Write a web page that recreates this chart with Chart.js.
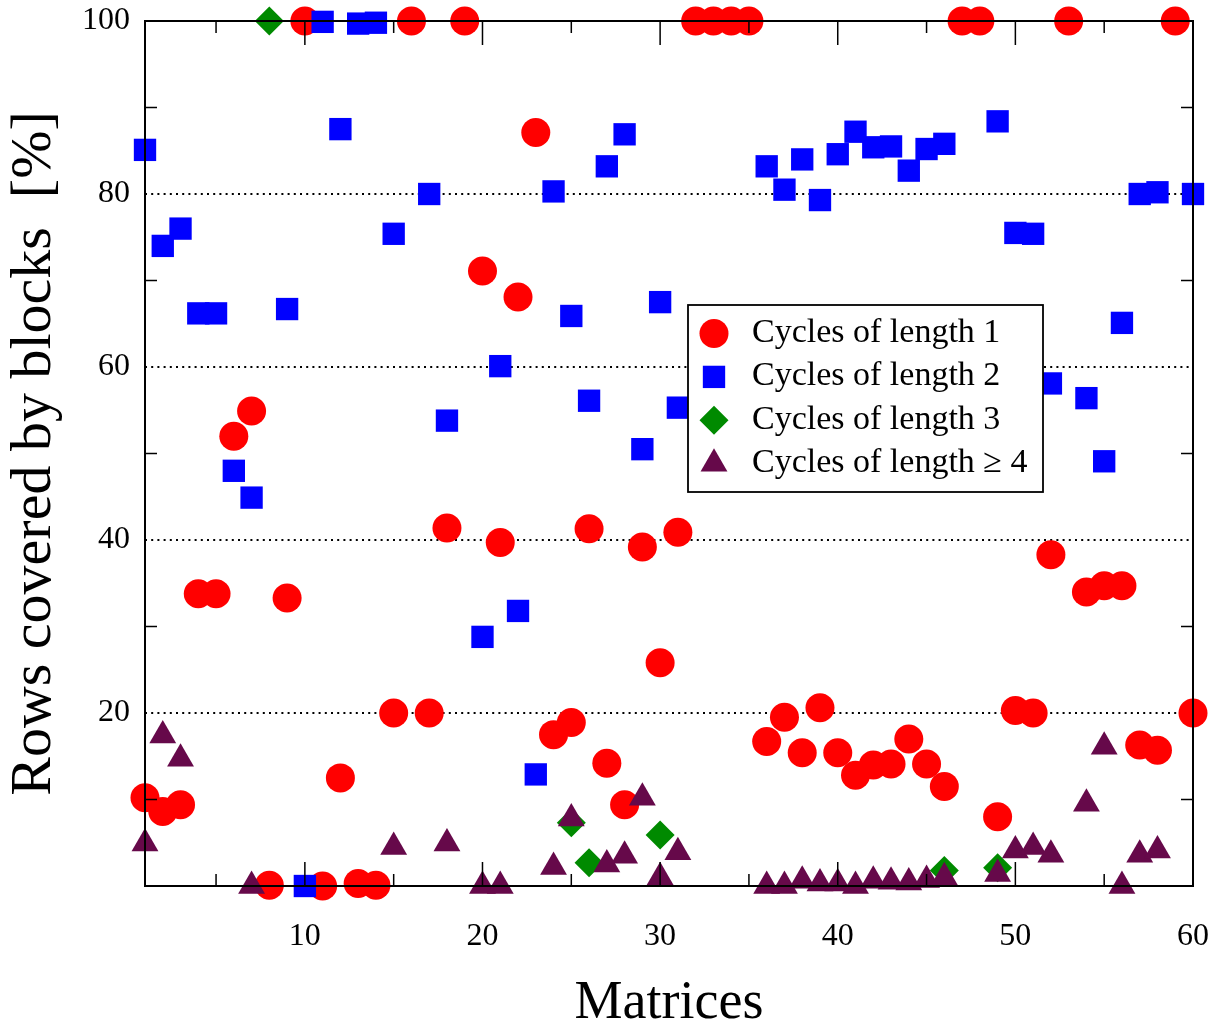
<!DOCTYPE html>
<html>
<head>
<meta charset="utf-8">
<title>Rows covered by blocks</title>
<script src="https://cdn.jsdelivr.net/npm/chart.js@4.4.1/dist/chart.umd.min.js"></script>
<style>
  html, body { margin: 0; padding: 0; background: #fff; }
  #wrap { width: 1214px; height: 1025px; }
</style>
</head>
<body>
<div id="wrap"><canvas id="chart"></canvas></div>
<script>
// Matrix index on the x axis
const matrices = [
   1,  2,  3,  4,  5,  6,  7,  8,  9, 10,
  11, 12, 13, 14, 15, 16, 17, 18, 19, 20,
  21, 22, 23, 24, 25, 26, 27, 28, 29, 30,
  31, 32, 33, 34, 35, 36, 37, 38, 39, 40,
  41, 42, 43, 44, 45, 46, 47, 48, 49, 50,
  51, 52, 53, 54, 55, 56, 57, 58, 59, 60
];

// Rows covered by blocks [%], one value per matrix (null = no point)
const cyclesLen1 = [
  10.2,  8.6,  9.4, 33.8, 33.8, 52.0, 54.9,  0.1, 33.3, 100,
   0.0, 12.5,  0.3,  0.1, 20.0, 100,  20.0, 41.4, 100,  71.1,
  39.7, 68.1, 87.1, 17.5, 18.9, 41.3, 14.2,  9.4, 39.2, 25.8,
  40.9, 100,  100,  100,  100,  16.7, 19.5, 15.4, 20.6, 15.4,
  12.8, 14.0, 14.1, 17.0, 14.1, 11.5, 100,  100,   8.0, 20.3,
  20.0, 38.3, 100,  34.0, 34.7, 34.7, 16.3, 15.7, 100,  20.0
];
const cyclesLen2 = [
  85.1, 74.0, 76.0, 66.2, 66.2, 48.0, 44.9, null, 66.7,  0.0,
  99.9, 87.5, 99.7, 99.8, 75.4, null, 80.0, 53.8, null, 28.8,
  60.1, 31.8, 12.9, 80.3, 65.9, 56.1, 83.2, 86.9, 50.5, 67.5,
  55.3, null, null, null, null, 83.2, 80.5, 84.0, 79.3, 84.6,
  87.2, 85.4, 85.5, 82.7, 85.2, 85.8, null, null, 88.4, 75.5,
  75.4, 58.1, null, 56.4, 49.1, 65.1, 80.0, 80.2, null, 80.0
];
const cyclesLen3 = [
  null, null, null, null, null, null, null, 100,  null, null,
  null, null, null, null, null, null, null, null, null, null,
  null, null, null, null,  7.3,  2.7, null, null, null,  5.9,
  null, null, null, null, null, null, null, null, null, null,
  null, null, null, null, null,  1.8, null, null,  2.1, null,
  null, null, null, null, null, null, null, null, null, null
];
const cyclesLen4plus = [
   4.9, 17.4, 14.7, null, null, null,  0.0, null, null, null,
  null, null, null, null,  4.5, null, null,  4.9, null,  0.0,
   0.0, null, null,  2.2,  7.8, null,  2.5,  3.5, 10.2,  1.0,
   3.9, null, null, null, null,  0.0,  0.0,  0.6,  0.3,  0.3,
   0.0,  0.6,  0.5,  0.4,  0.7,  1.0, null, null,  1.4,  4.1,
   4.5,  3.6, null,  9.5, 16.1,  0.0,  3.6,  4.1, null, null
];

// Tick positions
const xTickValues = [5, 10, 15, 20, 25, 30, 35, 40, 45, 50, 55, 60];
const yTickValues = [0, 10, 20, 30, 40, 50, 60, 70, 80, 90, 100];
const yGridValues = [20, 40, 60, 80];

const serif = "'Liberation Serif', 'Times New Roman', serif";

function toPoints(values) {
  return matrices
    .map((m, i) => ({ x: m, y: values[i] }))
    .filter(p => p.y !== null);
}

// Same shapes as Chart.js point styles, used for the legend box
function drawMarker(ctx, style, x, y, r, color) {
  ctx.fillStyle = color;
  ctx.beginPath();
  if (style === 'circle') {
    ctx.arc(x, y, r, 0, Math.PI * 2);
  } else if (style === 'rect') {
    const s = r * Math.SQRT1_2;
    ctx.rect(x - s, y - s, 2 * s, 2 * s);
  } else if (style === 'rectRot') {
    ctx.moveTo(x - r, y);
    ctx.lineTo(x, y - r);
    ctx.lineTo(x + r, y);
    ctx.lineTo(x, y + r);
    ctx.closePath();
  } else if (style === 'triangle') {
    let a = 0;
    ctx.moveTo(x + Math.sin(a) * r, y - Math.cos(a) * r);
    a += Math.PI * 2 / 3;
    ctx.lineTo(x + Math.sin(a) * r, y - Math.cos(a) * r);
    a += Math.PI * 2 / 3;
    ctx.lineTo(x + Math.sin(a) * r, y - Math.cos(a) * r);
    ctx.closePath();
  }
  ctx.fill();
}

// Frame, inward ticks and the boxed legend
const framePlugin = {
  id: 'framePlugin',
  afterDatasetsDraw(chart) {
    const ctx = chart.ctx;
    const area = chart.chartArea;
    const xs = chart.scales.x;
    const ys = chart.scales.y;
    ctx.save();
    ctx.strokeStyle = '#000';
    ctx.lineWidth = 1.5;
    ctx.beginPath();
    xs.ticks.forEach(t => {
      const px = xs.getPixelForValue(t.value);
      const len = t.value % 10 === 0 ? 24 : 12;
      ctx.moveTo(px, area.bottom);
      ctx.lineTo(px, area.bottom - len);
      ctx.moveTo(px, area.top);
      ctx.lineTo(px, area.top + len);
    });
    ys.ticks.forEach(t => {
      if (t.value % 20 === 0) return;
      const py = ys.getPixelForValue(t.value);
      ctx.moveTo(area.left, py);
      ctx.lineTo(area.left + 12, py);
      ctx.moveTo(area.right, py);
      ctx.lineTo(area.right - 12, py);
    });
    ctx.stroke();
    ctx.lineWidth = 2;
    ctx.strokeRect(area.left, area.top, area.right - area.left, area.bottom - area.top);

    // legend
    const box = { x: 688, y: 305, w: 355, h: 187 };
    ctx.fillStyle = '#fff';
    ctx.fillRect(box.x, box.y, box.w, box.h);
    ctx.lineWidth = 1.8;
    ctx.strokeRect(box.x, box.y, box.w, box.h);
    ctx.font = '34px ' + serif;
    ctx.textAlign = 'left';
    ctx.textBaseline = 'alphabetic';
    chart.data.datasets.forEach((ds, i) => {
      const base = 342 + i * 43.4;
      drawMarker(ctx, ds.pointStyle, 714, base - 8.5, ds.pointRadius, ds.pointBackgroundColor);
      ctx.fillStyle = '#000';
      ctx.fillText(ds.label, 752, base);
    });
    ctx.restore();
  }
};

const ctx = document.getElementById('chart');
new Chart(ctx, {
  type: 'scatter',
  data: {
    datasets: [
      {
        label: 'Cycles of length 1',
        data: toPoints(cyclesLen1),
        pointStyle: 'circle',
        pointRadius: 14.5,
        pointHoverRadius: 14.5,
        pointBackgroundColor: '#ff0000',
        pointBorderWidth: 0,
        order: 4,
        clip: false
      },
      {
        label: 'Cycles of length 2',
        data: toPoints(cyclesLen2),
        pointStyle: 'rect',
        pointRadius: 15.8,
        pointHoverRadius: 15.8,
        pointBackgroundColor: '#0000ff',
        pointBorderWidth: 0,
        order: 3,
        clip: false
      },
      {
        label: 'Cycles of length 3',
        data: toPoints(cyclesLen3),
        pointStyle: 'rectRot',
        pointRadius: 14.5,
        pointHoverRadius: 14.5,
        pointBackgroundColor: '#008a00',
        pointBorderWidth: 0,
        order: 2,
        clip: false
      },
      {
        label: 'Cycles of length \u2265 4',
        data: toPoints(cyclesLen4plus),
        pointStyle: 'triangle',
        pointRadius: 15.5,
        pointHoverRadius: 15.5,
        pointBackgroundColor: '#66094a',
        pointBorderWidth: 0,
        order: 1,
        clip: false
      }
    ]
  },
  options: {
    responsive: true,
    maintainAspectRatio: false,
    animation: false,
    devicePixelRatio: 1,
    layout: { padding: { left: 0, right: 21, top: 21, bottom: 0 } },
    plugins: {
      legend: { display: false },
      tooltip: { enabled: false }
    },
    scales: {
      x: {
        type: 'linear',
        min: 1,
        max: 60,
        afterBuildTicks: scale => {
          scale.ticks = xTickValues.map(v => ({ value: v }));
        },
        afterFit: scale => {
          scale.height = 139;
          scale.paddingLeft = 0;
          scale.paddingRight = 0;
        },
        grid: { display: false, drawTicks: false },
        border: { display: false },
        ticks: {
          autoSkip: false,
          maxRotation: 0,
          padding: 31,
          color: '#000',
          font: { family: serif, size: 32 },
          callback: v => (v % 10 === 0 ? String(v) : '')
        },
        title: {
          display: true,
          text: 'Matrices',
          color: '#000',
          padding: 0,
          font: { family: serif, size: 54, lineHeight: 0.8 }
        }
      },
      y: {
        type: 'linear',
        min: 0,
        max: 100,
        afterBuildTicks: scale => {
          scale.ticks = yTickValues.map(v => ({ value: v }));
        },
        afterFit: scale => {
          scale.width = 145;
          scale.paddingTop = 0;
          scale.paddingBottom = 0;
        },
        grid: {
          drawTicks: false,
          lineWidth: 2,
          color: c => (c.tick && yGridValues.includes(c.tick.value) ? '#000' : 'rgba(0,0,0,0)')
        },
        border: { display: false, dash: [2, 4.2] },
        ticks: {
          padding: 15,
          color: '#000',
          font: { family: serif, size: 32 },
          callback: v => (v % 20 === 0 && v > 0 ? String(v) : '')
        },
        title: {
          display: true,
          text: 'Rows covered by blocks  [%]',
          color: '#000',
          padding: 0,
          font: { family: serif, size: 58 }
        }
      }
    }
  },
  plugins: [framePlugin]
});
</script>
</body>
</html>
